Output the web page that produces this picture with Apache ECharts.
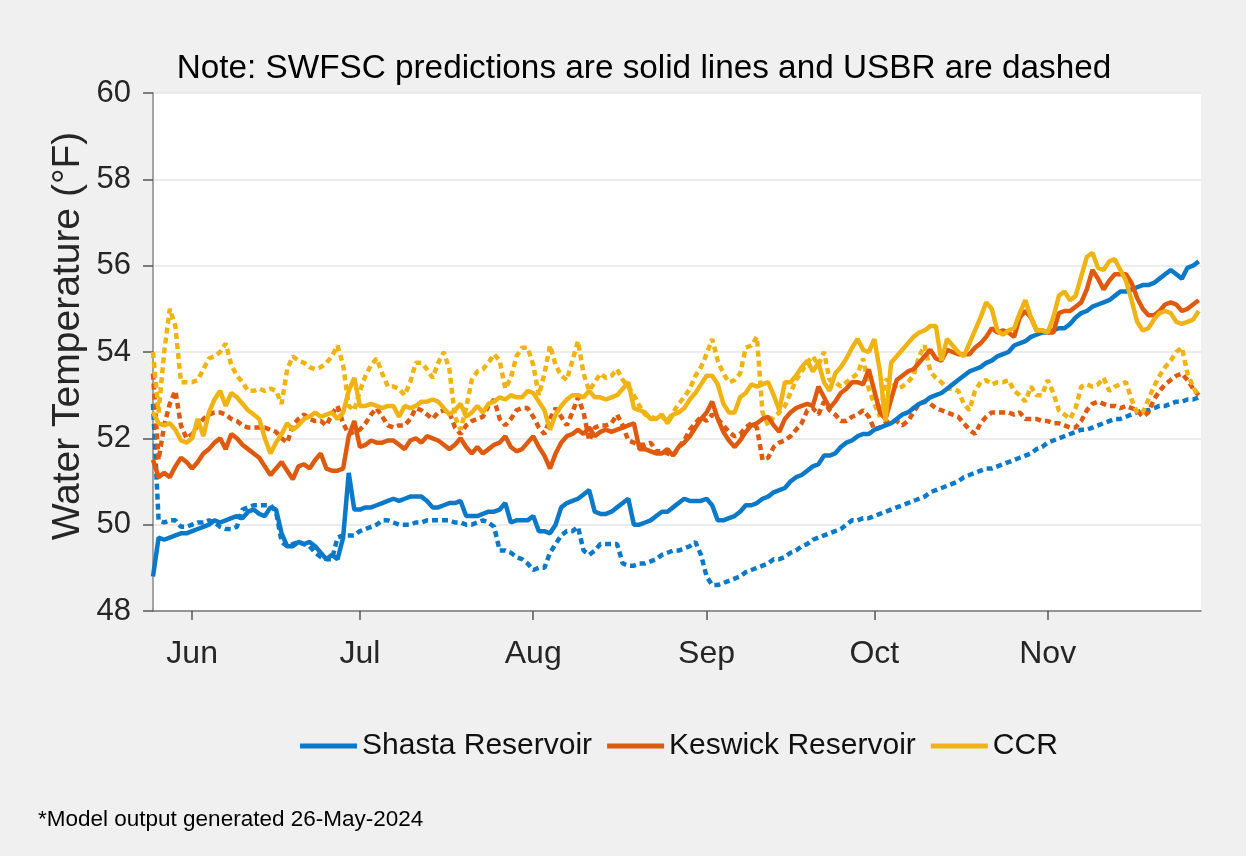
<!DOCTYPE html>
<html>
<head>
<meta charset="utf-8">
<title>Water Temperature</title>
<style>
  html, body { margin: 0; padding: 0; background: #f0f0f0; }
  #chart { width: 1246px; height: 856px; }
</style>
</head>
<body>
<div id="chart"></div>
<script src="https://cdn.jsdelivr.net/npm/echarts@6/dist/echarts.min.js"></script>
<script type="text/javascript">
// daily values, first day = 25 May 2024
var startDay = new Date(2024, 4, 25);
var monthLabels = ['Jan','Feb','Mar','Apr','May','Jun','Jul','Aug','Sep','Oct','Nov','Dec'];
var seriesNames = ['Shasta Reservoir', 'Keswick Reservoir', 'CCR'];

// SWFSC (solid)
var shastaSwfsc = [
  48.8,49.7,49.65,49.7,49.75,49.8,49.8,49.85,49.9,49.95,
  50.0,50.1,50.05,50.1,50.15,50.2,50.15,50.3,50.35,50.25,
  50.2,50.4,50.35,49.8,49.5,49.5,49.6,49.55,49.6,49.5,
  49.35,49.2,49.3,49.2,49.7,51.2,50.35,50.35,50.4,50.4,
  50.45,50.5,50.55,50.6,50.55,50.6,50.65,50.65,50.65,50.55,
  50.4,50.4,50.45,50.5,50.5,50.55,50.2,50.2,50.2,50.25,
  50.3,50.3,50.35,50.5,50.05,50.1,50.1,50.1,50.2,49.85,
  49.85,49.8,50.0,50.4,50.5,50.55,50.6,50.7,50.8,50.3,
  50.25,50.25,50.3,50.4,50.5,50.6,50.0,50.0,50.05,50.1,
  50.2,50.3,50.3,50.4,50.5,50.6,50.55,50.55,50.55,50.6,
  50.45,50.1,50.1,50.15,50.2,50.3,50.45,50.45,50.5,50.6,
  50.65,50.75,50.8,50.85,51.0,51.1,51.15,51.25,51.35,51.4,
  51.6,51.6,51.65,51.8,51.9,51.95,52.05,52.1,52.1,52.2,
  52.25,52.3,52.35,52.45,52.55,52.6,52.7,52.8,52.85,52.95,
  53.0,53.05,53.15,53.25,53.35,53.45,53.55,53.6,53.65,53.75,
  53.8,53.9,53.95,54.0,54.15,54.2,54.25,54.35,54.4,54.45,
  54.45,54.5,54.55,54.55,54.65,54.8,54.9,54.95,55.05,55.1,
  55.15,55.2,55.3,55.4,55.4,55.45,55.5,55.55,55.55,55.6,
  55.7,55.8,55.9,55.8,55.7,55.95,56.0,56.1
];
var keswickSwfsc = [
  51.5,51.1,51.2,51.1,51.35,51.55,51.45,51.3,51.45,51.65,
  51.75,51.9,52.0,51.75,52.1,52.0,51.85,51.75,51.65,51.55,
  51.35,51.15,51.3,51.45,51.25,51.05,51.35,51.4,51.3,51.5,
  51.65,51.3,51.25,51.25,51.3,52.05,52.4,51.8,51.85,51.95,
  51.9,51.9,51.95,51.95,51.85,51.75,51.95,52.0,51.9,52.05,
  52.0,51.95,51.85,51.75,51.85,52.0,51.8,51.65,51.8,51.65,
  51.75,51.85,51.9,52.05,51.8,51.7,51.75,51.9,52.05,51.8,
  51.6,51.3,51.65,51.9,52.05,52.1,52.2,52.1,52.25,52.05,
  52.15,52.2,52.15,52.2,52.25,52.3,52.35,51.75,51.75,51.7,
  51.65,51.65,51.75,51.6,51.8,51.9,52.05,52.25,52.45,52.6,
  52.85,52.45,52.15,51.95,51.8,51.95,52.15,52.3,52.35,52.45,
  52.5,52.3,52.15,52.45,52.6,52.7,52.75,52.8,52.75,53.2,
  52.95,52.7,52.85,53.05,53.15,53.3,53.3,53.25,53.6,53.1,
  52.6,52.45,52.9,53.35,53.45,53.55,53.6,53.75,53.9,54.05,
  53.85,53.8,54.05,54.0,53.95,53.95,53.95,54.1,54.2,54.35,
  54.55,54.45,54.5,54.45,54.35,54.8,54.95,54.8,54.5,54.5,
  54.45,54.45,54.9,54.95,54.95,55.05,55.15,55.45,55.9,55.7,
  55.45,55.65,55.8,55.8,55.8,55.6,55.25,55.0,54.85,54.85,
  54.95,55.1,55.15,55.1,54.95,55.0,55.1,55.2
];
var ccrSwfsc = [
  52.6,52.35,52.3,52.35,52.2,51.95,51.9,52.0,52.45,52.05,
  52.6,52.9,53.1,52.75,53.05,52.95,52.8,52.65,52.55,52.45,
  52.0,51.65,51.9,52.1,52.35,52.2,52.3,52.45,52.5,52.6,
  52.5,52.55,52.6,52.45,52.6,53.1,53.4,52.75,52.75,52.8,
  52.75,52.7,52.75,52.75,52.5,52.75,52.7,52.75,52.85,52.85,
  52.9,52.85,52.7,52.55,52.65,52.8,52.5,52.6,52.75,52.6,
  52.8,52.85,52.95,52.9,53.0,52.95,52.95,53.1,53.05,52.85,
  52.65,52.2,52.55,52.75,52.9,53.0,53.0,52.95,53.1,52.95,
  52.95,52.9,52.95,53.0,53.15,53.3,52.7,52.65,52.6,52.45,
  52.45,52.55,52.35,52.55,52.6,52.7,52.9,53.05,53.25,53.45,
  53.45,53.25,52.8,52.6,52.6,52.95,53.05,53.25,53.2,53.25,
  53.3,53.0,52.65,53.3,53.3,53.45,53.65,53.8,53.55,53.75,
  53.3,53.1,53.5,53.65,53.85,54.1,54.3,54.05,54.0,54.3,
  53.55,52.4,53.75,53.9,54.05,54.2,54.35,54.45,54.5,54.6,
  54.6,53.8,54.3,54.15,54.0,53.9,54.2,54.5,54.8,55.15,
  55.0,54.5,54.4,54.5,54.55,54.9,55.2,54.8,54.5,54.5,
  54.45,54.8,55.3,55.4,55.2,55.3,55.75,56.2,56.3,55.95,
  55.9,56.1,56.15,55.9,55.65,55.2,54.7,54.5,54.55,54.75,
  54.9,54.95,54.9,54.7,54.65,54.7,54.75,54.95
];

// USBR (dashed)
var shastaUsbr = [
  52.8,50.1,50.05,50.1,50.1,49.95,49.95,50.0,50.05,50.05,
  50.1,50.05,49.95,49.9,49.9,49.95,50.35,50.4,50.45,50.45,
  50.45,50.45,50.3,49.6,49.5,49.55,49.6,49.55,49.5,49.35,
  49.25,49.2,49.2,49.7,49.75,49.75,49.75,49.85,49.9,49.95,
  50.0,50.1,50.1,50.05,50.0,50.0,50.0,50.05,50.05,50.1,
  50.1,50.1,50.1,50.1,50.05,50.05,50.0,50.0,50.05,50.1,
  50.05,49.95,49.4,49.4,49.35,49.25,49.2,49.1,48.95,49.0,
  49.0,49.35,49.55,49.75,49.85,49.85,49.95,49.4,49.3,49.4,
  49.55,49.55,49.55,49.55,49.1,49.05,49.05,49.1,49.1,49.15,
  49.2,49.3,49.35,49.4,49.4,49.45,49.5,49.6,49.3,48.8,
  48.6,48.6,48.65,48.7,48.75,48.8,48.9,48.95,49.0,49.05,
  49.1,49.2,49.2,49.25,49.35,49.4,49.5,49.55,49.65,49.7,
  49.75,49.8,49.85,49.9,50.0,50.1,50.1,50.15,50.15,50.2,
  50.25,50.3,50.35,50.4,50.45,50.5,50.55,50.6,50.65,50.75,
  50.8,50.85,50.9,50.95,51.0,51.1,51.15,51.2,51.25,51.3,
  51.3,51.35,51.4,51.45,51.5,51.55,51.6,51.65,51.75,51.8,
  51.9,51.95,52.0,52.05,52.1,52.15,52.2,52.2,52.25,52.3,
  52.35,52.4,52.45,52.45,52.5,52.55,52.6,52.65,52.65,52.7,
  52.75,52.75,52.8,52.85,52.85,52.9,52.9,52.95
];
var keswickUsbr = [
  53.5,51.5,52.3,52.8,53.1,52.3,52.0,52.1,52.3,52.45,
  52.55,52.6,52.6,52.55,52.45,52.4,52.3,52.25,52.25,52.25,
  52.25,52.2,52.15,52.0,51.9,52.3,52.45,52.55,52.45,52.4,
  52.4,52.3,52.55,52.75,52.35,52.1,52.15,52.2,52.35,52.55,
  52.7,52.5,52.3,52.25,52.3,52.3,52.45,52.7,52.65,52.55,
  52.45,52.6,52.65,52.6,52.25,52.1,52.3,52.4,52.45,52.5,
  52.75,52.9,52.45,52.3,52.45,52.65,52.7,52.7,52.5,52.25,
  52.1,52.45,52.7,52.5,52.3,52.6,52.95,52.6,51.95,52.25,
  52.3,52.3,52.35,52.55,52.3,51.95,51.9,51.85,51.85,51.9,
  51.7,51.7,51.65,51.6,51.8,51.95,52.2,52.35,52.5,52.4,
  52.55,52.45,52.3,52.15,52.05,52.1,52.25,52.35,52.25,51.5,
  51.55,51.8,51.9,51.95,52.05,52.2,52.35,52.65,52.7,52.55,
  52.85,52.65,52.55,52.4,52.4,52.5,52.55,52.65,52.5,52.2,
  52.25,52.35,52.4,52.4,52.3,52.4,52.6,52.8,52.85,52.8,
  52.7,52.65,52.6,52.55,52.5,52.35,52.2,52.1,52.35,52.5,
  52.6,52.6,52.6,52.6,52.55,52.6,52.45,52.45,52.45,52.4,
  52.4,52.35,52.35,52.3,52.25,52.25,52.4,52.65,52.8,52.85,
  52.8,52.75,52.75,52.7,52.75,52.7,52.65,52.5,52.6,52.9,
  53.1,53.25,53.35,53.45,53.5,53.35,53.15,53.0
];
var ccrUsbr = [
  54.0,52.6,54.0,55.0,54.6,53.3,53.3,53.3,53.35,53.6,
  53.85,53.9,54.0,54.2,53.7,53.45,53.3,53.1,53.1,53.15,
  53.1,53.15,53.1,52.8,53.6,53.9,53.8,53.75,53.65,53.6,
  53.65,53.75,53.9,54.15,53.7,52.75,52.65,53.1,53.45,53.7,
  53.85,53.5,53.2,53.2,53.15,53.0,53.3,53.75,53.75,53.6,
  53.4,53.75,54.0,53.6,52.5,52.2,52.7,53.35,53.55,53.6,
  53.75,53.95,53.8,53.15,53.4,53.9,54.1,54.1,53.7,53.0,
  53.5,54.15,53.7,53.45,53.35,53.8,54.25,53.5,53.1,53.3,
  53.5,53.4,53.45,53.6,53.35,53.2,53.0,52.75,52.55,52.5,
  52.45,52.5,52.4,52.6,52.8,52.95,53.15,53.45,53.65,53.95,
  54.3,53.8,53.5,53.3,53.35,53.5,54.1,54.15,54.35,52.6,
  52.3,52.5,52.6,52.75,53.05,53.35,53.55,53.75,53.9,53.7,
  54.0,53.35,53.3,53.2,53.3,53.4,53.5,53.85,53.15,52.8,
  52.5,53.35,53.35,53.15,53.2,53.3,53.45,53.9,54.15,53.55,
  53.4,53.3,53.15,53.15,53.1,52.8,52.65,53.1,53.3,53.35,
  53.25,53.3,53.3,53.35,53.1,53.0,52.85,53.2,53.0,53.0,
  53.35,53.05,52.65,52.55,52.45,52.7,53.2,53.25,53.2,53.25,
  53.4,53.1,53.2,53.25,53.3,52.9,52.6,52.6,52.9,53.2,
  53.45,53.65,53.8,54.0,54.1,53.5,53.2,52.95
];

var colors = ['#0b79c8', '#de5a0e', '#efb313'];
var font = '"Liberation Sans", Arial, Helvetica, sans-serif';

function toPairs(vals) {
  var out = [];
  for (var i = 0; i < vals.length; i++) {
    var d = new Date(startDay.getFullYear(), startDay.getMonth(), startDay.getDate() + i);
    out.push([d.getTime(), vals[i]]);
  }
  return out;
}

function lineSeries(name, vals, color, dashed) {
  return {
    name: name,
    type: 'line',
    showSymbol: false,
    symbol: 'none',
    data: toPairs(vals),
    z: dashed ? 2 : 3,
    lineStyle: { color: color, width: 4.5, type: dashed ? [6, 4] : 'solid' },
    itemStyle: { color: color },
    emphasis: { disabled: true }
  };
}

var myChart = echarts.init(document.getElementById('chart'));

var option = {
    animation: false,
    backgroundColor: '#f0f0f0',
    textStyle: { fontFamily: font },
    grid: {
        left: 153, right: 45, top: 93, bottom: 245,
        show: true, backgroundColor: '#ffffff', borderWidth: 0
    },
    legend: {
        data: seriesNames,
        left: 295,
        top: 726,
        icon: 'rect',
        itemWidth: 57,
        itemHeight: 5,
        itemGap: 15,
        textStyle: { fontSize: 30, color: '#111', fontFamily: font }
    },
    xAxis: {
        type: 'time',
        min: new Date(2024, 4, 25).getTime(),
        max: new Date(2024, 10, 28, 10).getTime(),
        minInterval: 28 * 86400000,
        maxInterval: 31 * 86400000,
        axisLine: { show: true, onZero: false, lineStyle: { color: '#777', width: 1.5 } },
        axisTick: { show: true, inside: false, length: 9, lineStyle: { color: '#555', width: 1.5 } },
        axisLabel: {
            fontSize: 32, color: '#262626', margin: 27, fontFamily: font,
            formatter: function (v) { return monthLabels[new Date(v).getMonth()]; }
        },
        splitLine: { show: false }
    },
    yAxis: {
        type: 'value',
        min: 48, max: 60, interval: 2,
        axisLine: { show: true, lineStyle: { color: '#888', width: 1.5 } },
        axisTick: { show: true, inside: false, length: 10, lineStyle: { color: '#555', width: 1.5 } },
        axisLabel: { fontSize: 31, color: '#262626', margin: 22, fontFamily: font },
        splitLine: { show: true, lineStyle: { color: '#e6e6e6', width: 1.5 } }
    },
    graphic: [
        {
            type: 'text', x: 644, y: 69,
            style: {
                text: 'Note: SWFSC predictions are solid lines and USBR are dashed',
                font: '33.3px ' + font, fill: '#000', align: 'center', verticalAlign: 'middle'
            }
        },
        {
            type: 'text', x: 68, y: 336, rotation: Math.PI / 2,
            style: {
                text: 'Water Temperature (\u00B0F)',
                font: '39px ' + font, fill: '#262626', align: 'center', verticalAlign: 'middle'
            }
        },
        {
            type: 'text', x: 38, y: 820,
            style: {
                text: '*Model output generated 26-May-2024',
                font: '22.5px ' + font, fill: '#000', align: 'left', verticalAlign: 'middle'
            }
        }
    ],
    series: [
        lineSeries('Shasta USBR', shastaUsbr, colors[0], true),
        lineSeries('Keswick USBR', keswickUsbr, colors[1], true),
        lineSeries('CCR USBR', ccrUsbr, colors[2], true),
        lineSeries(seriesNames[0], shastaSwfsc, colors[0], false),
        lineSeries(seriesNames[1], keswickSwfsc, colors[1], false),
        lineSeries(seriesNames[2], ccrSwfsc, colors[2], false)
    ]
};
myChart.setOption(option);
</script>
</body>
</html>
